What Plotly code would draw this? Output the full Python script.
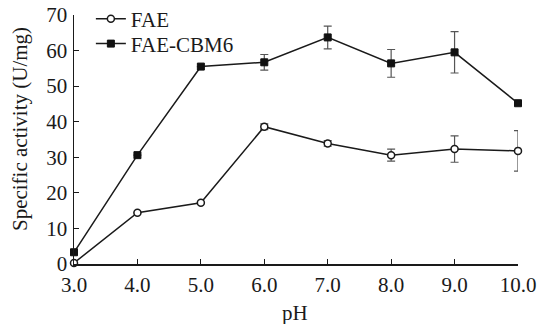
import plotly.graph_objects as go

ph = [3.0, 4.0, 5.0, 6.0, 7.0, 8.0, 9.0, 10.0]
fae = [0.3, 14.4, 17.2, 38.6, 33.9, 30.6, 32.3, 31.8]
fae_err = [0, 0, 0, 0.8, 0.8, 1.7, 3.7, 5.7]
cbm6 = [3.3, 30.6, 55.5, 56.7, 63.7, 56.4, 59.5, 45.2]
cbm6_err = [0, 0, 0, 2.2, 3.2, 3.9, 5.8, 0]
xticks = [3.0, 4.0, 5.0, 6.0, 7.0, 8.0, 9.0, 10.0]
xticklabels = ["3.0", "4.0", "5.0", "6.0", "7.0", "8.0", "9.0", "10.0"]
yticks = [0, 10, 20, 30, 40, 50, 60, 70]

FONT = "Liberation Serif, Times New Roman, serif"
FS = 21

fig = go.Figure()
fig.add_trace(go.Scatter(
    x=ph, y=fae, name="FAE", mode="lines+markers", legend="legend",
    line=dict(color="#1a1a1a", width=1.5),
    marker=dict(symbol="circle", size=7, color="white", line=dict(color="#1a1a1a", width=1.5)),
    error_y=dict(type="data", array=fae_err, color="#555555", thickness=1.2, width=4),
    cliponaxis=False,
))
fig.add_trace(go.Scatter(
    x=ph, y=cbm6, name="FAE-CBM6", mode="lines+markers", legend="legend2",
    line=dict(color="#1a1a1a", width=1.5),
    marker=dict(symbol="square", size=7, color="#111111", line=dict(color="#111111", width=1)),
    error_y=dict(type="data", array=cbm6_err, color="#555555", thickness=1.2, width=4),
    cliponaxis=False,
))

leg_common = dict(xanchor="left", yanchor="top", bgcolor="rgba(0,0,0,0)",
                  font=dict(size=FS, family=FONT), itemwidth=30)

fig.update_layout(
    width=539, height=324,
    margin=dict(l=74, r=21, t=15, b=60, autoexpand=False),
    paper_bgcolor="white", plot_bgcolor="white",
    font=dict(family=FONT, size=FS, color="#1a1a1a"),
    showlegend=True,
    hovermode=False,
    legend=dict(x=0.038, y=1.066, **leg_common),
    legend2=dict(x=0.038, y=0.966, **leg_common),
    xaxis=dict(range=[3, 10], tickvals=xticks, ticktext=xticklabels,
               showline=True, linecolor="#1a1a1a", linewidth=1.5,
               ticks="inside", ticklen=5, tickwidth=1.2, tickcolor="#1a1a1a",
               showgrid=False, zeroline=False, automargin=False,
               ticklabeloverflow="allow", ticklabelstandoff=1,
               tickfont=dict(size=FS, family=FONT)),
    yaxis=dict(range=[0, 70], tickvals=yticks,
               showline=True, linecolor="#1a1a1a", linewidth=1.5,
               ticks="inside", ticklen=5, tickwidth=1.2, tickcolor="#1a1a1a",
               showgrid=False, zeroline=False, automargin=False,
               ticklabeloverflow="allow", ticklabelstandoff=1,
               tickfont=dict(size=FS, family=FONT)),
    annotations=[
        dict(text="Specific activity (U/mg)", textangle=-90, xref="paper", yref="paper",
             x=-0.1216, y=0.542, xanchor="center", yanchor="middle", showarrow=False,
             font=dict(size=FS, family=FONT)),
        dict(text="pH", xref="paper", yref="paper", x=0.498, y=-0.197,
             xanchor="center", yanchor="middle", showarrow=False,
             font=dict(size=FS, family=FONT)),
    ],
)

fig.write_html("out.html", config={"displayModeBar": False, "staticPlot": True},
               post_script="document.body.style.margin='0';")
